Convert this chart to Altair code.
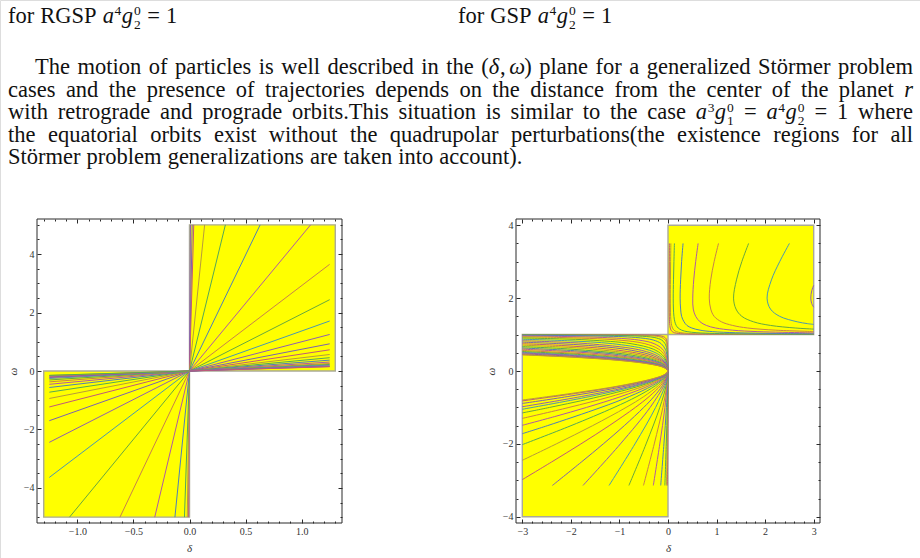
import altair as alt
import pandas as pd

W, H = 920, 558
FONT = "Liberation Serif"
FS = 22.5          # body text size (px)
SMALL = 0.6        # relative size of super/subscripts
TICK_FONT = "Liberation Serif"

# =====================================================================
# DATA - left panel  (RGSP, a^4 g2^0 = 1)
# =====================================================================
RGSP_DELTA_RANGE = [-1.36, 1.36]
RGSP_OMEGA_RANGE = [-5.2, 5.2]
RGSP_REGION_D1 = [-1.3, 0.0]
RGSP_REGION_D2 = [0.0, 1.3]
RGSP_REGION_W1 = [-5.0, 0.0]
RGSP_REGION_W2 = [0.0, 5.0]
# straight trajectories leaving the origin: read end points
RGSP_Q1_END_D = [0.009, 0.024, 0.038, 0.135, 0.32, 0.63, 1.08,
                 1.25, 1.25, 1.25, 1.25, 1.25, 1.25, 1.25, 1.25,
                 1.25, 1.25, 1.25, 1.25, 1.25, 1.25, 1.25, 1.25]
RGSP_Q1_END_W = [5.0, 5.0, 5.0, 5.0, 5.0, 5.0, 5.0,
                 3.65, 2.44, 1.71, 1.25, 0.93, 0.725, 0.565, 0.455,
                 0.372, 0.306, 0.256, 0.224, 0.202, 0.175, 0.154, 0.147]
RGSP_Q3_END_D = [-0.008, -0.02, -0.045, -0.13, -0.31, -0.62, -1.07,
                 -1.25, -1.25, -1.25, -1.25, -1.25, -1.25, -1.25, -1.25,
                 -1.25, -1.25, -1.25, -1.25, -1.25, -1.25, -1.25, -1.25]
RGSP_Q3_END_W = [-5.0, -5.0, -5.0, -5.0, -5.0, -5.0, -5.0,
                 -3.64, -2.44, -1.70, -1.23, -0.94, -0.725, -0.565, -0.455,
                 -0.372, -0.306, -0.256, -0.224, -0.202, -0.175, -0.154, -0.147]
RGSP_X_MAJOR = [-1.0, -0.5, 0.0, 0.5, 1.0]
RGSP_Y_MAJOR = [-4, -2, 0, 2, 4]

# =====================================================================
# DATA - right panel  (GSP, a^4 g2^0 = 1)
# =====================================================================
GSP_DELTA_RANGE = [-3.13, 3.13]
GSP_OMEGA_RANGE = [-4.17, 4.17]
GSP_REGION_D1 = [-3.0, 0.0]
GSP_REGION_D2 = [0.0, 3.0]
GSP_REGION_W1 = [-4.0, 1.0]
GSP_REGION_W2 = [1.0, 4.0]
GSP_X_MAJOR = [-3, -2, -1, 0, 1, 2, 3]
GSP_Y_MAJOR = [-4, -2, 0, 2, 4]

# upper-right family (delta, omega)
GSP_UR_1 = [(0.029, 3.5), (0.027, 3.0), (0.025, 2.5), (0.024, 2.0), (0.025, 1.7), (0.027, 1.5),
            (0.031, 1.35), (0.038, 1.25), (0.046, 1.18), (0.063, 1.12), (0.088, 1.08),
            (0.132, 1.05), (0.212, 1.03), (0.312, 1.02), (0.612, 1.01), (3.0, 1.002)]
GSP_UR_2 = [(0.059, 3.5), (0.054, 3.0), (0.050, 2.5), (0.048, 2.0), (0.050, 1.7), (0.054, 1.5),
            (0.063, 1.35), (0.075, 1.25), (0.093, 1.18), (0.125, 1.12), (0.175, 1.08),
            (0.265, 1.05), (0.424, 1.03), (0.624, 1.02), (1.224, 1.01), (3.0, 1.004)]
GSP_UR_3 = [(0.132, 3.5), (0.122, 3.0), (0.113, 2.5), (0.108, 2.0), (0.112, 1.7), (0.122, 1.5),
            (0.141, 1.35), (0.169, 1.25), (0.209, 1.18), (0.282, 1.12), (0.394, 1.08),
            (0.595, 1.05), (0.955, 1.03), (1.404, 1.02), (2.754, 1.01), (3.0, 1.009)]
GSP_UR_4 = [(0.31, 3.5), (0.28, 3.0), (0.26, 2.5), (0.25, 2.0), (0.26, 1.7), (0.28, 1.5),
            (0.33, 1.35), (0.39, 1.25), (0.49, 1.18), (0.66, 1.12), (0.92, 1.08),
            (1.39, 1.05), (2.23, 1.03), (3.0, 1.022)]
GSP_UR_5 = [(0.62, 3.5), (0.57, 3.0), (0.53, 2.5), (0.51, 2.0), (0.52, 1.7), (0.57, 1.5),
            (0.66, 1.35), (0.79, 1.25), (0.98, 1.18), (1.33, 1.12), (1.85, 1.08),
            (2.80, 1.05), (3.0, 1.046)]
GSP_UR_6 = [(1.04, 3.5), (0.95, 3.0), (0.88, 2.5), (0.85, 2.0), (0.88, 1.7), (0.95, 1.5),
            (1.10, 1.35), (1.33, 1.25), (1.64, 1.18), (2.22, 1.12), (3.0, 1.083)]
GSP_UR_7 = [(1.66, 3.5), (1.52, 3.0), (1.41, 2.5), (1.35, 2.0), (1.40, 1.7), (1.52, 1.5),
            (1.76, 1.35), (2.11, 1.25), (2.62, 1.18), (3.0, 1.149)]
GSP_UR_8 = [(2.50, 3.5), (2.30, 3.0), (2.13, 2.5), (2.04, 2.0), (2.11, 1.7), (2.30, 1.5),
            (2.66, 1.35), (2.87, 1.30), (3.0, 1.278)]
GSP_UR_9 = [(3.0, 2.35), (2.96, 2.2), (2.94, 2.0), (2.96, 1.85), (3.0, 1.75)]

# lower-left family (delta, omega): upper branch -> origin -> lower branch
GSP_LL_1 = [(-3, 0.998), (-0.588, 0.99), (-0.288, 0.98), (-0.138, 0.96), (-0.064, 0.92),
            (-0.029, 0.85), (0, 0), (-0.014, -3.14)]
GSP_LL_2 = [(-3, 0.996), (-1.176, 0.99), (-0.576, 0.98), (-0.276, 0.96), (-0.127, 0.92),
            (-0.058, 0.85), (-0.027, 0.75), (0, 0), (-0.016, -2.0), (-0.029, -3.14)]
GSP_LL_3 = [(-3, 0.991), (-1.297, 0.98), (-0.622, 0.96), (-0.286, 0.92), (-0.130, 0.85),
            (-0.061, 0.75), (-0.024, 0.6), (0, 0), (-0.0135, -1.0), (-0.036, -2.0), (-0.064, -3.14)]
GSP_LL_4 = [(-3, 0.980), (-1.452, 0.96), (-0.667, 0.92), (-0.303, 0.85), (-0.142, 0.75),
            (-0.057, 0.6), (-0.023, 0.45), (0, 0), (-0.032, -1.0), (-0.084, -2.0), (-0.150, -3.14)]
GSP_LL_5 = [(-3, 0.961), (-2.062, 0.945), (-1.344, 0.92), (-0.612, 0.85), (-0.286, 0.75),
            (-0.114, 0.6), (-0.047, 0.45), (-0.016, 0.3), (0, 0), (-0.064, -1.0), (-0.169, -2.0),
            (-0.302, -3.14)]
GSP_LL_6 = [(-3, 0.938), (-2.243, 0.92), (-1.021, 0.85), (-0.477, 0.75), (-0.191, 0.6),
            (-0.078, 0.45), (-0.027, 0.3), (0, 0), (-0.024, -0.4), (-0.106, -1.0),
            (-0.283, -2.0), (-0.505, -3.14)]
GSP_LL_7 = [(-3, 0.907), (-2.181, 0.88), (-1.628, 0.85), (-0.761, 0.75), (-0.304, 0.6),
            (-0.125, 0.45), (-0.044, 0.3), (0, 0), (-0.039, -0.4), (-0.169, -1.0),
            (-0.451, -2.0), (-0.805, -3.14)]
GSP_LL_8 = [(-3, 0.871), (-2.067, 0.83), (-1.148, 0.75), (-0.459, 0.6), (-0.188, 0.45),
            (-0.066, 0.3), (-0.026, 0.2), (0, 0), (-0.017, -0.2), (-0.058, -0.4),
            (-0.255, -1.0), (-0.68, -2.0), (-1.214, -3.14)]
GSP_LL_9 = [(-3, 0.831), (-2.352, 0.8), (-1.654, 0.75), (-0.662, 0.6), (-0.271, 0.45),
            (-0.095, 0.3), (-0.037, 0.2), (0, 0), (-0.024, -0.2), (-0.084, -0.4),
            (-0.368, -1.0), (-0.98, -2.0), (-1.75, -3.14)]
GSP_LL_10 = [(-3, 0.791), (-2.25, 0.75), (-1.633, 0.7), (-0.9, 0.6), (-0.368, 0.45),
             (-0.129, 0.3), (-0.05, 0.2), (-0.011, 0.1), (0, 0), (-0.009, -0.1), (-0.033, -0.2),
             (-0.114, -0.4), (-0.288, -0.7), (-0.5, -1.0), (-0.9, -1.5), (-1.333, -2.0),
             (-1.786, -2.5), (-2.381, -3.14)]
GSP_LL_11 = [(-3, 0.749), (-2.197, 0.7), (-1.211, 0.6), (-0.495, 0.45), (-0.173, 0.3),
             (-0.067, 0.2), (-0.015, 0.1), (0, 0), (-0.012, -0.1), (-0.045, -0.2),
             (-0.154, -0.4), (-0.388, -0.7), (-0.673, -1.0), (-1.211, -1.5), (-1.793, -2.0),
             (-2.402, -2.5), (-3, -2.98)]
GSP_LL_12 = [(-3, 0.710), (-2.21, 0.66), (-1.553, 0.6), (-0.635, 0.45), (-0.222, 0.3),
             (-0.086, 0.2), (-0.019, 0.1), (0, 0), (-0.016, -0.1), (-0.058, -0.2),
             (-0.197, -0.4), (-0.497, -0.7), (-0.863, -1.0), (-1.553, -1.5), (-2.30, -2.0),
             (-3, -2.45)]
GSP_LL_13 = [(-3, 0.669), (-1.998, 0.6), (-0.817, 0.45), (-0.286, 0.3), (-0.111, 0.2),
             (-0.025, 0.1), (0, 0), (-0.020, -0.1), (-0.074, -0.2), (-0.254, -0.4),
             (-0.640, -0.7), (-1.11, -1.0), (-1.998, -1.5), (-3, -2.02)]
GSP_LL_14 = [(-3, 0.632), (-1.855, 0.55), (-1.016, 0.45), (-0.355, 0.3), (-0.138, 0.2),
             (-0.031, 0.1), (0, 0), (-0.025, -0.1), (-0.092, -0.2), (-0.316, -0.4),
             (-0.795, -0.7), (-1.38, -1.0), (-2.484, -1.5), (-3, -1.72)]
GSP_LL_15 = [(-3, 0.599), (-2.008, 0.53), (-1.237, 0.45), (-0.432, 0.3), (-0.168, 0.2),
             (-0.037, 0.1), (0, 0), (-0.031, -0.1), (-0.112, -0.2), (-0.384, -0.4),
             (-0.968, -0.7), (-1.68, -1.0), (-2.333, -1.25), (-3, -1.49)]
GSP_LL_16 = [(-3, 0.565), (-1.502, 0.45), (-0.950, 0.38), (-0.525, 0.3), (-0.204, 0.2),
             (-0.045, 0.1), (0, 0), (-0.037, -0.1), (-0.136, -0.2), (-0.466, -0.4),
             (-1.176, -0.7), (-2.04, -1.0), (-3, -1.30)]
GSP_LL_17 = [(-3, 0.535), (-1.797, 0.45), (-1.137, 0.38), (-0.628, 0.3), (-0.244, 0.2),
             (-0.054, 0.1), (0, 0), (-0.044, -0.1), (-0.163, -0.2), (-0.558, -0.4),
             (-1.406, -0.7), (-2.44, -1.0), (-3, -1.15)]
GSP_LL_18 = [(-3, 0.512), (-1.488, 0.4), (-0.718, 0.3), (-0.279, 0.2), (-0.062, 0.1), (0, 0),
             (-0.051, -0.1), (-0.186, -0.2), (-0.638, -0.4), (-1.608, -0.7), (-3, -1.05)]
GSP_LL_19 = [(-3, 0.495), (-1.651, 0.4), (-0.796, 0.3), (-0.310, 0.2), (-0.069, 0.1), (0, 0),
             (-0.056, -0.1), (-0.206, -0.2), (-0.708, -0.4), (-1.784, -0.7), (-3, -0.98)]
GSP_LL_20 = [(-3, 0.471), (-1.909, 0.4), (-0.921, 0.3), (-0.358, 0.2), (-0.080, 0.1), (0, 0),
             (-0.065, -0.1), (-0.238, -0.2), (-0.818, -0.4), (-2.063, -0.7), (-3, -0.89)]
GSP_LL_21 = [(-3, 0.451), (-1.891, 0.38), (-1.044, 0.3), (-0.406, 0.2), (-0.090, 0.1), (0, 0),
             (-0.074, -0.1), (-0.270, -0.2), (-0.928, -0.4), (-1.827, -0.6), (-3, -0.82)]
GSP_LL_22 = [(-3, 0.443), (-1.847, 0.37), (-1.093, 0.3), (-0.425, 0.2), (-0.094, 0.1), (0, 0),
             (-0.077, -0.1), (-0.283, -0.2), (-0.972, -0.4), (-1.913, -0.6), (-3, -0.796)]

# curve colours as they appear on the yellow ground
PALETTE = ["#7c62b0", "#c05a78", "#b89a3c", "#55a858", "#4f7fb8",
           "#b05aa4", "#c8824a", "#68a83e", "#4a98b0", "#9060b0"]

# =====================================================================
# page text
# =====================================================================
def plain(s):
    return [[(w, "n")] for w in s.split()]

TOP_LEFT = plain("for RGSP") + [[("a", "i"), ("4", "sup"), ("g", "i"), ("0/2", "ss")],
                                [("=", "n")], [("1", "n")]]
TOP_RIGHT = plain("for GSP") + [[("a", "i"), ("4", "sup"), ("g", "i"), ("0/2", "ss")],
                               [("=", "n")], [("1", "n")]]
PAR_1 = (plain("The motion of particles is well described in the")
         + [[("(", "n"), ("δ", "i"), (",", "n"), ("", "sp"), ("ω", "i"), (")", "n")]]
         + plain("plane for a generalized Störmer problem"))
PAR_2 = plain("cases and the presence of trajectories depends on the distance "
              "from the center of the planet") + [[("r", "i")]]
PAR_3 = (plain("with retrograde and prograde orbits.This situation is similar to the case")
         + [[("a", "i"), ("3", "sup"), ("g", "i"), ("0/1", "ss")], [("=", "n")],
            [("a", "i"), ("4", "sup"), ("g", "i"), ("0/2", "ss")], [("=", "n")], [("1", "n")]]
         + plain("where"))
PAR_4 = plain("the equatorial orbits exist without the quadrupolar perturbations(the "
              "existence regions for all")
PAR_5 = plain("Störmer problem generalizations are taken into account).")

ROMAN = {'a': 444, 'b': 500, 'c': 444, 'd': 500, 'e': 444, 'f': 333, 'g': 500, 'h': 500,
         'i': 278, 'j': 278, 'k': 500, 'l': 278, 'm': 778, 'n': 500, 'o': 500, 'p': 500,
         'q': 500, 'r': 333, 's': 389, 't': 278, 'u': 500, 'v': 500, 'w': 722, 'x': 500,
         'y': 500, 'z': 444, 'R': 667, 'G': 722, 'S': 556, 'P': 556, 'T': 611, 'ö': 500,
         '(': 333, ')': 333, '.': 250, ',': 250, '=': 564}
ITALIC = {'a': 500, 'g': 500, 'r': 389, 'δ': 500, 'ω': 667}


def seg_width(t, s):
    if s == "n":
        return sum(ROMAN.get(c, 500) for c in t) * FS / 1000
    if s == "i":
        return sum(ITALIC.get(c, 500) for c in t) * FS / 1000
    if s == "sup":
        return sum(ROMAN.get(c, 500) for c in t) * SMALL * FS / 1000 + 0.05 * FS
    if s == "ss":
        return max(ROMAN.get(c, 500) for c in t.replace("/", "")) * SMALL * FS / 1000 + 0.06 * FS
    return 0.17 * FS


def place(words, x0, base, rows, right=None):
    widths = [sum(seg_width(t, s) for t, s in w) for w in words]
    if right is None:
        gap = 0.27 * FS
    else:
        gap = (right - x0 - sum(widths)) / (len(words) - 1)
    x = x0
    for w, wd in zip(words, widths):
        cx = x
        for t, s in w:
            if s == "n":
                rows.append(dict(px=cx, py=base, t=t, k="n"))
            elif s == "i":
                rows.append(dict(px=cx, py=base, t=t, k="i"))
            elif s == "sup":
                rows.append(dict(px=cx + 0.03 * FS, py=base - 0.34 * FS, t=t, k="s"))
            elif s == "ss":
                a, b = t.split("/")
                rows.append(dict(px=cx + 0.04 * FS, py=base - 0.34 * FS, t=a, k="s"))
                rows.append(dict(px=cx + 0.04 * FS, py=base + 0.26 * FS, t=b, k="s"))
            cx += seg_width(t, s)
        x += wd + gap


text_rows = []
place(TOP_LEFT, 8, 23, text_rows)
place(TOP_RIGHT, 458, 23, text_rows)
place(PAR_1, 35, 74, text_rows, right=913)
place(PAR_2, 8, 96.6, text_rows, right=913)
place(PAR_3, 8, 119.2, text_rows, right=913)
place(PAR_4, 8, 141.8, text_rows, right=913)
place(PAR_5, 8, 164.4, text_rows)
text_df = pd.DataFrame(text_rows)

# =====================================================================
# build tables
# =====================================================================
rgsp_rows = []
for i, (d, w) in enumerate(zip(RGSP_Q1_END_D, RGSP_Q1_END_W)):
    col = PALETTE[(i - 1) % len(PALETTE)]
    rgsp_rows += [dict(cid=f"q1_{i}", k=0, d=0.0, w=0.0, col=col),
                  dict(cid=f"q1_{i}", k=1, d=d, w=w, col=col)]
for i, (d, w) in enumerate(zip(RGSP_Q3_END_D, RGSP_Q3_END_W)):
    col = PALETTE[(i + 1) % len(PALETTE)]
    rgsp_rows += [dict(cid=f"q3_{i}", k=0, d=0.0, w=0.0, col=col),
                  dict(cid=f"q3_{i}", k=1, d=d, w=w, col=col)]
rgsp_df = pd.DataFrame(rgsp_rows)

GSP_UR = [GSP_UR_1, GSP_UR_2, GSP_UR_3, GSP_UR_4, GSP_UR_5, GSP_UR_6, GSP_UR_7, GSP_UR_8, GSP_UR_9]
GSP_LL = [GSP_LL_1, GSP_LL_2, GSP_LL_3, GSP_LL_4, GSP_LL_5, GSP_LL_6, GSP_LL_7, GSP_LL_8,
          GSP_LL_9, GSP_LL_10, GSP_LL_11, GSP_LL_12, GSP_LL_13, GSP_LL_14, GSP_LL_15,
          GSP_LL_16, GSP_LL_17, GSP_LL_18, GSP_LL_19, GSP_LL_20, GSP_LL_21, GSP_LL_22]
gsp_rows = []
for i, pts in enumerate(GSP_UR):
    for k, (d, w) in enumerate(pts):
        gsp_rows.append(dict(cid=f"ur_{i}", k=k, d=d, w=w, col=PALETTE[(i + 1) % 10]))
for i, pts in enumerate(GSP_LL):
    for k, (d, w) in enumerate(pts):
        gsp_rows.append(dict(cid=f"ll_{i}", k=k, d=d, w=w, col=PALETTE[(i + 1) % 10]))
gsp_df = pd.DataFrame(gsp_rows)


def minor(lo, hi, step, majors):
    n = int(round((hi - lo) / step))
    vals = [round(lo + step * j, 3) for j in range(n + 1)]
    return [v for v in vals if all(abs(v - m) > 1e-6 for m in majors)]


def panel(curves, d1, d2, w1, w2, drange, wrange, px, xmaj, xmin, ymaj, ymin, xfmt, tpos):
    left, right, top, bottom = px
    xs = alt.Scale(domain=drange, range=[left, right], nice=False, zero=False)
    ys = alt.Scale(domain=wrange, range=[bottom, top], nice=False, zero=False)
    reg_df = pd.DataFrame(dict(x1=d1, x2=d2, y1=w1, y2=w2))
    frame_df = pd.DataFrame(dict(x1=[drange[0]], x2=[drange[1]], y1=[wrange[0]], y2=[wrange[1]]))

    regions = alt.Chart(reg_df).mark_rect(fill="#FFFF00", stroke="#aaaa98", strokeWidth=1.4).encode(
        x=alt.X("x1:Q", scale=xs, axis=None), x2="x2:Q",
        y=alt.Y("y1:Q", scale=ys, axis=None), y2="y2:Q")
    lines = alt.Chart(curves).mark_line(strokeWidth=1, interpolate="catmull-rom").encode(
        x=alt.X("d:Q", scale=xs, axis=None), y=alt.Y("w:Q", scale=ys, axis=None),
        detail="cid:N", order="k:Q", color=alt.Color("col:N", scale=None))
    frame = alt.Chart(frame_df).mark_rect(filled=False, stroke="#2a2a2a", strokeWidth=1).encode(
        x=alt.X("x1:Q", scale=xs, axis=None), x2="x2:Q",
        y=alt.Y("y1:Q", scale=ys, axis=None), y2="y2:Q")

    common = dict(grid=False, domain=False, tickColor="#2a2a2a", tickWidth=1, zindex=2,
                  labelFont=TICK_FONT, labelFontSize=10, labelColor="#333333")
    tx, ty = tpos

    def ax_layer(xa, ya):
        return alt.Chart(frame_df).mark_point(opacity=0).encode(
            x=alt.X("x1:Q", scale=xs, axis=xa), y=alt.Y("y1:Q", scale=ys, axis=ya))

    a1 = ax_layer(
        alt.Axis(orient="bottom", offset=(bottom - H) - 4, values=xmaj, tickSize=4, format=xfmt,
                 labelPadding=3, labelFlush=False, labelOverlap=False,
                 title="δ", titleFont=FONT, titleFontSize=11, titleFontStyle="italic",
                 titleFontWeight="normal", titleColor="#333333", titleX=tx,
                 titleY=548 - (bottom - 4), titleAlign="center", titleBaseline="middle", **common),
        alt.Axis(orient="left", offset=-(left + 4), values=ymaj, tickSize=4, format="d",
                 labelPadding=3, labelOverlap=False,
                 title="ω", titleFont=FONT, titleFontSize=11, titleFontStyle="italic",
                 titleFontWeight="normal", titleColor="#333333", titleX=ty - (left + 4),
                 titleY=371, titleAlign="center", titleBaseline="middle", titleAngle=270, **common))
    a2 = ax_layer(
        alt.Axis(orient="top", offset=-(top + 4), values=xmaj, tickSize=4, labels=False,
                 title=None, **common),
        alt.Axis(orient="right", offset=(right - 4) - W, values=ymaj, tickSize=4, labels=False,
                 title=None, **common))
    a3 = ax_layer(
        alt.Axis(orient="bottom", offset=(bottom - H) - 2, values=xmin, tickSize=2, labels=False,
                 title=None, **common),
        alt.Axis(orient="left", offset=-(left + 2), values=ymin, tickSize=2, labels=False,
                 title=None, **common))
    a4 = ax_layer(
        alt.Axis(orient="top", offset=-(top + 2), values=xmin, tickSize=2, labels=False,
                 title=None, **common),
        alt.Axis(orient="right", offset=(right - 2) - W, values=ymin, tickSize=2, labels=False,
                 title=None, **common))
    return [regions, lines, frame, a1, a2, a3, a4]


left_layers = panel(rgsp_df, RGSP_REGION_D1, RGSP_REGION_D2, RGSP_REGION_W1, RGSP_REGION_W2,
                    RGSP_DELTA_RANGE, RGSP_OMEGA_RANGE, (37, 342, 219, 523),
                    RGSP_X_MAJOR, minor(-1.3, 1.3, 0.1, RGSP_X_MAJOR),
                    RGSP_Y_MAJOR, minor(-5.0, 5.0, 0.5, RGSP_Y_MAJOR), ".1f", (189, 13))
right_layers = panel(gsp_df, GSP_REGION_D1, GSP_REGION_D2, GSP_REGION_W1, GSP_REGION_W2,
                     GSP_DELTA_RANGE, GSP_OMEGA_RANGE, (516, 820, 219, 523),
                     GSP_X_MAJOR, minor(-3.0, 3.0, 0.2, GSP_X_MAJOR),
                     GSP_Y_MAJOR, minor(-4.0, 4.0, 0.5, GSP_Y_MAJOR), "d", (668, 491))

txs = alt.Scale(domain=[0, W], range=[0, W], nice=False, zero=False)
tys = alt.Scale(domain=[0, H], range=[0, H], nice=False, zero=False)


def text_layer(kind, **mk):
    return alt.Chart(text_df[text_df.k == kind]).mark_text(
        align="left", baseline="alphabetic", font=FONT, color="#111111", **mk).encode(
        x=alt.X("px:Q", scale=txs, axis=None), y=alt.Y("py:Q", scale=tys, axis=None), text="t:N")


texts = [text_layer("n", fontSize=FS),
         text_layer("i", fontSize=FS, fontStyle="italic"),
         text_layer("s", fontSize=SMALL * FS)]

chart = alt.layer(*left_layers, *right_layers, *texts).resolve_scale(
    x="independent", y="independent").properties(
    width=W, height=H, autosize=alt.AutoSizeParams(type="none"),
    padding={"left": 0, "top": 0, "right": 0, "bottom": 0}
).configure_view(stroke=None).configure(background="white")

chart.save("out.html", embed_options={"renderer": "svg", "actions": False})
